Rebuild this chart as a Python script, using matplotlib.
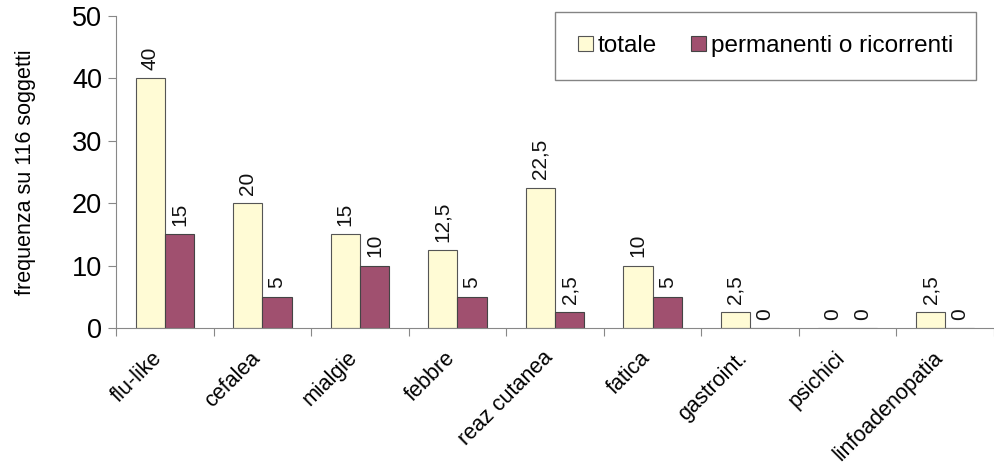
import numpy as np
import matplotlib
matplotlib.use('Agg')
import matplotlib.pyplot as plt
import matplotlib.transforms as mtransforms

categories = ['flu-like', 'cefalea', 'mialgie', 'febbre', 'reaz cutanea',
              'fatica', 'gastroint.', 'psichici', 'linfoadenopatia']
totale = [40, 20, 15, 12.5, 22.5, 10, 2.5, 0, 2.5]
permanenti = [15, 5, 10, 5, 2.5, 5, 0, 0, 0]
series_names = ['totale', 'permanenti o ricorrenti']

plt.rcParams['font.family'] = ['Liberation Sans', 'DejaVu Sans']

fig = plt.figure(figsize=(9.94, 4.70), dpi=100)
ax = fig.add_axes([116 / 994, 142 / 470, 878 / 994, 312 / 470])

x = np.arange(len(categories))
w = 0.3
c_tot = '#FFFBD5'
c_perm = '#A0506F'
b1 = ax.bar(x - w / 2, totale, w, color=c_tot, edgecolor='#555555', linewidth=0.8, label=series_names[0])
b2 = ax.bar(x + w / 2, permanenti, w, color=c_perm, edgecolor='#444444', linewidth=0.8, label=series_names[1])

def fmt(v):
    return ('%g' % v).replace('.', ',')

for bars, vals in ((b1, totale), (b2, permanenti)):
    for r, v in zip(bars, vals):
        ax.annotate(fmt(v), (r.get_x() + r.get_width() / 2, v), xytext=(0, 6),
                    textcoords='offset points', rotation=90, ha='center', va='bottom',
                    fontsize=15, color='#111111')

ax.set_ylim(0, 50)
ax.set_xlim(-0.5, -0.5 + 878 / 98.6)
ax.set_yticks([0, 10, 20, 30, 40, 50])
ax.tick_params(axis='y', labelsize=19.5, length=6, color='#888888', pad=4)
ax.set_ylabel('frequenza su 116 soggetti', fontsize=15.5, labelpad=26)

# category boundaries carry tick marks, labels sit at centres
ax.set_xticks(np.arange(len(categories) + 1) - 0.5)
ax.set_xticklabels([])
ax.tick_params(axis='x', length=6, color='#888888')
ax.set_xticks(x, minor=True)
ax.set_xticklabels(categories, minor=True, rotation=45, ha='right',
                   rotation_mode='anchor', fontsize=15.5)
ax.tick_params(axis='x', which='minor', length=0, pad=14)
shift = mtransforms.ScaledTranslation(-13 / 100, 0, fig.dpi_scale_trans)
for lab in ax.get_xticklabels(minor=True):
    lab.set_transform(lab.get_transform() + shift)

for s in ('top', 'right'):
    ax.spines[s].set_visible(False)
for s in ('left', 'bottom'):
    ax.spines[s].set_color('#888888')

leg = ax.legend(loc='upper right', bbox_to_anchor=((976 - 116) / 878, 1.013),
                ncol=2, fontsize=17.5, frameon=True, fancybox=False,
                handlelength=0.6, handleheight=0.6, handletextpad=0.2,
                columnspacing=1.4, borderpad=0.95, borderaxespad=0)
leg.get_frame().set_edgecolor('#666666')
leg.get_frame().set_linewidth(1.0)

fig.savefig('out.png', dpi=100)
